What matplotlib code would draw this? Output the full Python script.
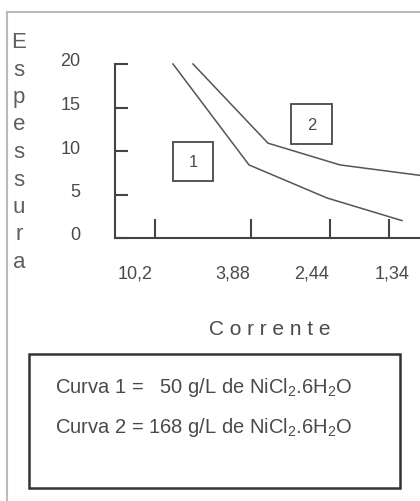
import matplotlib
matplotlib.use('Agg')
import matplotlib.pyplot as plt
from matplotlib.patches import Rectangle
from matplotlib.lines import Line2D
from matplotlib.transforms import ScaledTranslation

plt.rcParams['font.family'] = ['Liberation Sans', 'DejaVu Sans']
plt.rcParams['mathtext.default'] = 'regular'

# dados (eixo x sem escala numérica, posições relativas)
x_tick_pos = [0.40, 1.36, 2.15, 2.74]
x_label_pos = [0.20, 1.18, 1.97, 2.77]
x_labels = ['10,2', '3,88', '2,44', '1,34']
y_ticks = [0, 5, 10, 15, 20]

curva1_x = [0.58, 1.34, 2.12, 2.87]
curva1_y = [20, 8.4, 4.6, 2.0]
curva2_x = [0.78, 1.53, 2.25, 3.05]
curva2_y = [20, 10.9, 8.4, 7.2]

legenda = [r'Curva 1 =   50 g/L de NiCl$_2$.6H$_2$O',
           r'Curva 2 = 168 g/L de NiCl$_2$.6H$_2$O']

cor_eixo = '#444444'
cor_linha = '#555555'
cor_texto = '#4a4a4a'

fig = plt.figure(figsize=(4.2, 5.02), dpi=100)
ax = fig.add_axes([115 / 420, 1 - 239 / 502, 305 / 420, 174 / 502])

ax.plot(curva1_x, curva1_y, color=cor_linha, lw=1.1, clip_on=False)
ax.plot(curva2_x, curva2_y, color=cor_linha, lw=1.1, clip_on=False)

ax.set_xlim(0, 3.05)
ax.set_ylim(0, 20)

for s in ['top', 'right']:
    ax.spines[s].set_visible(False)
for s in ['left', 'bottom']:
    ax.spines[s].set_color(cor_eixo)
    ax.spines[s].set_linewidth(1.5)

# marcas do eixo x (menores) e rótulos deslocados (maiores)
ax.set_xticks(x_tick_pos, minor=True)
ax.set_xticks(x_label_pos)
ax.set_xticklabels(x_labels)
ax.tick_params(axis='x', which='major', length=0, pad=19, labelsize=13,
               labelcolor=cor_texto)
ax.tick_params(axis='x', which='minor', direction='in', length=14,
               width=1.5, color=cor_eixo)

ax.set_yticks(y_ticks)
ax.tick_params(axis='y', direction='in', length=9, width=1.5, color=cor_eixo,
               pad=25, labelsize=13, labelcolor=cor_texto)
# rótulos do eixo y um pouco acima das marcas, como no original
desloc = ScaledTranslation(0, 5 / 100, fig.dpi_scale_trans)
for lbl in ax.get_yticklabels():
    lbl.set_transform(lbl.get_transform() + desloc)

# caixas com os números das curvas
ax.add_patch(Rectangle((0.58, 6.55), 0.40, 4.5, fill=False,
                       ec=cor_linha, lw=1.4))
ax.text(0.78, 8.8, '1', ha='center', va='center', fontsize=12, color=cor_texto)
ax.add_patch(Rectangle((1.76, 10.8), 0.41, 4.6, fill=False,
                       ec=cor_linha, lw=1.4))
ax.text(1.965, 13.1, '2', ha='center', va='center', fontsize=12,
        color=cor_texto)

# rótulo vertical "Espessura", letra por letra
for i, letra in enumerate('Espessura'):
    fig.text(19 / 420, 1 - (48 + 27.5 * i) / 502, letra, ha='center',
             va='baseline', fontsize=16, color='#5e5e5e')

fig.text(270 / 420, 1 - 330 / 502, 'C o r r e n t e', ha='center',
         va='center', fontsize=15, color=cor_texto)

# moldura externa
fig.add_artist(Line2D([7 / 420, 7 / 420], [0, 1 - 13 / 502],
                      transform=fig.transFigure, color='#bbbbbb', lw=1.5))
fig.add_artist(Line2D([7 / 420, 1], [1 - 13 / 502, 1 - 13 / 502],
                      transform=fig.transFigure, color='#bbbbbb', lw=1.5))

# caixa da legenda
fig.add_artist(Rectangle((29 / 420, 13 / 502), 371 / 420, 134 / 502,
                         transform=fig.transFigure, fill=False,
                         ec='#333333', lw=1.8))
for i, linha in enumerate(legenda):
    fig.text(55 / 420, 1 - (388 + 40 * i) / 502, linha, ha='left',
             va='center', fontsize=14.5, color=cor_texto)

fig.savefig('out.png', dpi=100)
